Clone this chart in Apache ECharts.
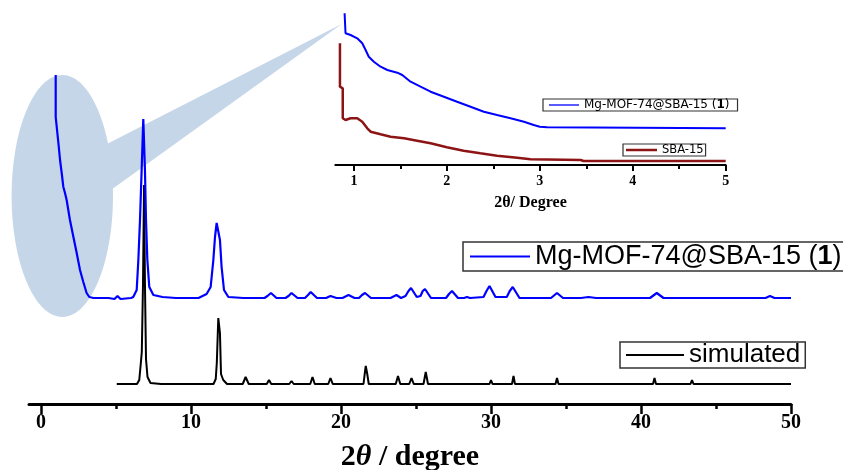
<!DOCTYPE html>
<html><head><meta charset="utf-8">
<script src="https://cdn.jsdelivr.net/npm/echarts@6/dist/echarts.min.js"></script>
<style>html,body{margin:0;padding:0;background:#fff}#c{width:843px;height:470px}</style>
</head><body><div id="c"></div>
<script>
// ---- tick values ----
const mainTicks = [0, 10, 20, 30, 40, 50];
const mainMinorTicks = [5, 15, 25, 35, 45];
const insetTicks = [1, 2, 3, 4, 5];
const insetMinorTicks = [1.5, 2.5, 3.5, 4.5];

// ---- series names ----
const nameComposite = 'Mg-MOF-74@SBA-15 (1)';
const nameSimulated = 'simulated';
const nameCompositeInset = 'Mg-MOF-74@SBA-15 (1) low-angle';
const nameSBA = 'SBA-15';

// ---- main pattern: Mg-MOF-74@SBA-15 (1), [2theta, intensity] ----
const blueMain = [
  [0.98,329],[0.98,287],[1.09,286],[1.16,261],[1.27,244],[1.38,231],[1.49,217],[1.6,211],[1.71,204],
  [1.82,194],[1.93,184],[2.16,167],[2.38,151],[2.6,134],[2.82,122],[3.04,111],[3.22,107],[3.5,106],
  [4.5,106],[4.9,105],[5.1,108],[5.3,105],[6.0,106],[6.15,107],[6.38,114],[6.49,144],[6.6,184],
  [6.71,234],[6.82,285],[6.93,234],[7.0,184],[7.09,144],[7.22,117],[7.49,109],[8.1,107],[9,106],
  [10.5,106],[11.04,110],[11.31,117],[11.49,144],[11.6,167],[11.71,181],[11.82,180],[11.93,164],
  [12.04,137],[12.2,114],[12.49,107],[13.5,106],[14.9,106],[15.1,108],[15.33,111],[15.7,106],[16.3,106],
  [16.5,108],[16.7,111],[17.1,106],[17.6,106],[17.8,109],[17.98,112],[18.4,106],[19.0,106],[19.3,108],
  [19.7,106],[20.1,106],[20.5,109],[20.9,106],[21.2,106],[21.4,109],[21.6,111],[22.0,106],[23.3,106],
  [23.7,109],[24.0,106],[24.3,108],[24.5,113],[24.67,116],[25.05,107],[25.3,108],[25.45,113],[25.6,115],
  [26.0,106],[27.0,106],[27.2,110],[27.4,113],[27.8,106],[28.2,106],[28.4,107],[28.6,106],[29.5,107],
  [29.7,113],[29.9,118],[30.3,107],[31.05,107],[31.25,113],[31.45,117],[31.9,106],[33.0,106],[34.0,106],
  [34.4,111],[34.8,106],[36.0,106],[36.5,107],[37,106],[40.6,106],[41.05,111],[41.5,106],[44,106],
  [48.3,106],[48.6,108],[48.9,106],[50,106]
];

// ---- main pattern: simulated ----
const simulated = [
  [5.05,20],[6.4,20],[6.55,24],[6.65,40],[6.72,52],[6.8,120],[6.87,219],[6.93,120],[7.0,45],[7.1,27],
  [7.3,21],[8,20],[11.5,20],[11.65,25],[11.72,41],[11.82,86],[11.93,71],[12.0,30],[12.15,24],[12.4,20],
  [13.45,20],[13.64,27],[13.85,20],[15.05,20],[15.2,24],[15.35,20],[16.55,20],[16.7,23],[16.85,20],
  [17.95,20],[18.1,27],[18.25,20],[19.15,20],[19.3,26],[19.45,20],[20.5,20],[20.6,22],[20.7,20],
  [21.5,20],[21.58,30],[21.65,38],[21.75,30],[21.85,20],[23.65,20],[23.8,28],[23.95,20],[24.55,20],
  [24.7,26],[24.85,20],[25.5,20],[25.65,32],[25.8,20],[27.4,20],[27.5,22],[27.6,20],[28.4,20],[28.5,22],
  [28.6,20],[29.9,20],[30.0,24],[30.1,20],[31.4,20],[31.5,28],[31.6,20],[33.6,20],[33.7,22],[33.8,20],
  [34.3,20],[34.4,26],[34.5,20],[35.4,20],[35.5,22],[35.6,20],[36.7,20],[36.8,22],[36.9,20],[38.4,20],
  [38.5,22],[38.6,20],[40.8,20],[40.9,26],[41.0,20],[41.6,20],[41.7,22],[41.8,20],[43.3,20],[43.4,24],
  [43.5,20],[44.4,20],[44.5,22],[44.6,20],[48.5,20],[48.6,22],[48.7,20],[50,20]
];

// ---- inset (low angle) ----
const blueInset = [
  [0.90,151.7],[0.91,131.7],[0.964,130],[1.036,126.7],[1.09,121.7],[1.126,115],[1.16,108.3],[1.215,103.3],
  [1.287,98.3],[1.36,95],[1.467,92.3],[1.52,90],[1.61,83.3],[1.717,78.3],[1.825,73.3],[1.968,68.3],
  [2.11,63.3],[2.255,58.3],[2.398,53.3],[2.54,50],[2.685,46.7],[2.83,43.3],[2.935,40],[3.0,38.3],
  [3.08,37.7],[5.0,36.7]
];
const redInset = [
  [0.85,121.7],[0.85,78.3],[0.88,76.7],[0.88,46.7],[0.91,45],[0.964,46.7],[1.036,46.7],[1.09,43.3],
  [1.144,36.7],[1.18,33.3],[1.287,30.7],[1.395,28.3],[1.54,26.7],[1.68,24.3],[1.825,21.7],[2.0,17.7],
  [2.18,14.3],[2.36,11.7],[2.54,9.3],[2.757,7.3],[2.9,5.7],[3.44,5],[3.47,4],[5.0,4]
];

const BLUE = '#0000ff', BLACK = '#000000', RED = '#8c1414', FILL = '#c6d6e9';
const SERIF = '"Liberation Serif","Times New Roman",serif';
const SANS = '"Liberation Sans",Arial,sans-serif';
const DJ = '"DejaVu Sans",sans-serif';

const chart = echarts.init(document.getElementById('c'), null, {renderer: 'canvas'});

const legendBase = {
  orient: 'horizontal', borderWidth: 1.5, borderColor: '#333', backgroundColor: '#fff',
  selectedMode: false, itemGap: 0, icon: 'rect'
};

chart.setOption({
  animation: false,
  backgroundColor: '#fff',
  grid: [
    {left: 29, right: 52, top: 4, bottom: 66, outerBoundsMode: 'none', containLabel: false},
    {left: 335.3, right: 117.3, top: 5, bottom: 305, outerBoundsMode: 'none', containLabel: false}
  ],
  xAxis: [
    {
      type: 'value', gridIndex: 0, position: 'bottom', min: -0.8, max: 50,
      axisLine: {onZero: false, lineStyle: {color: '#000', width: 3}},
      axisTick: {customValues: mainTicks, length: 10, lineStyle: {color: '#000', width: 2.5}},
      axisLabel: {customValues: mainTicks, margin: 9, color: '#000', fontFamily: SERIF, fontWeight: 'bold', fontSize: 20},
      splitLine: {show: false},
      name: '{n|2}{t|θ}{n| / degree}', nameLocation: 'middle', nameGap: 38,
      nameTextStyle: {rich: {
        n: {fontFamily: SERIF, fontWeight: 'bold', fontSize: 30, color: '#000'},
        t: {fontFamily: SERIF, fontWeight: 'bold', fontStyle: 'italic', fontSize: 30, color: '#000'}
      }}
    },
    {
      type: 'value', gridIndex: 0, position: 'bottom', min: -0.8, max: 50,
      axisLine: {show: false, onZero: false},
      axisTick: {customValues: mainMinorTicks, length: 5, lineStyle: {color: '#000', width: 2.5}},
      axisLabel: {show: false}, splitLine: {show: false}
    },
    {
      type: 'value', gridIndex: 1, position: 'bottom', min: 0.8, max: 5,
      axisLine: {onZero: false, lineStyle: {color: '#000', width: 2}},
      axisTick: {customValues: insetTicks, length: 6, lineStyle: {color: '#000', width: 2}},
      axisLabel: {customValues: insetTicks, margin: 9, color: '#000', fontFamily: SERIF, fontWeight: 'bold', fontSize: 14},
      splitLine: {show: false},
      name: '2θ/ Degree', nameLocation: 'middle', nameGap: 30,
      nameTextStyle: {fontFamily: SERIF, fontWeight: 'bold', fontSize: 16, color: '#000'}
    },
    {
      type: 'value', gridIndex: 1, position: 'bottom', min: 0.8, max: 5,
      axisLine: {show: false, onZero: false},
      axisTick: {customValues: insetMinorTicks, length: 4, lineStyle: {color: '#000', width: 2}},
      axisLabel: {show: false}, splitLine: {show: false}
    }
  ],
  yAxis: [
    {type: 'value', gridIndex: 0, min: 0, max: 400, show: false},
    {type: 'value', gridIndex: 1, min: 0, max: 160, show: false}
  ],
  legend: [
    Object.assign({}, legendBase, {
      data: [nameComposite], left: 463, top: 242, padding: [1, 3, 1, 7], itemWidth: 60, itemHeight: 2,
      formatter: () => 'Mg-MOF-74@SBA-15 ({b|1})',
      textStyle: {fontFamily: SANS, fontSize: 27, color: '#000', rich: {b: {fontFamily: SANS, fontSize: 27, fontWeight: 'bold', color: '#000'}}}
    }),
    Object.assign({}, legendBase, {
      data: [nameSimulated], left: 620, top: 342, padding: [0, 5, 0, 6], itemWidth: 58, itemHeight: 2,
      textStyle: {fontFamily: SANS, fontSize: 26, color: '#000'}
    }),
    Object.assign({}, legendBase, {
      data: [nameCompositeInset], left: 543, top: 99, padding: [0, 8, 0, 6], itemWidth: 30, itemHeight: 1.3,
      borderWidth: 1.2,
      formatter: () => 'Mg-MOF-74@SBA-15 ({b|1})',
      textStyle: {fontFamily: DJ, fontSize: 12, color: '#000', rich: {b: {fontFamily: DJ, fontSize: 12, fontWeight: 'bold', color: '#000'}}}
    }),
    Object.assign({}, legendBase, {
      data: [nameSBA], left: 623, top: 144, padding: [0, 2, 0, 3], itemWidth: 31, itemHeight: 2.5,
      borderWidth: 1.2,
      textStyle: {fontFamily: DJ, fontSize: 11.5, color: '#000'}
    })
  ],
  graphic: [
    {type: 'ellipse', z: 0, silent: true, shape: {cx: 62.3, cy: 196, rx: 50.7, ry: 121}, style: {fill: FILL}},
    {type: 'polygon', z: 0, silent: true, shape: {points: [[98, 146], [108.3, 143.3], [341.7, 24], [113.3, 188.3], [98, 190]]}, style: {fill: FILL}}
  ],
  series: [
    {name: nameSimulated, type: 'line', xAxisIndex: 0, yAxisIndex: 0, data: simulated, symbol: 'none', showSymbol: false,
      lineStyle: {color: BLACK, width: 2}, itemStyle: {color: BLACK}, z: 3},
    {name: nameComposite, type: 'line', xAxisIndex: 0, yAxisIndex: 0, data: blueMain, symbol: 'none', showSymbol: false,
      lineStyle: {color: BLUE, width: 2.2}, itemStyle: {color: BLUE}, z: 4},
    {name: nameCompositeInset, type: 'line', xAxisIndex: 2, yAxisIndex: 1, data: blueInset, symbol: 'none', showSymbol: false,
      lineStyle: {color: BLUE, width: 2}, itemStyle: {color: BLUE}, z: 4},
    {name: nameSBA, type: 'line', xAxisIndex: 2, yAxisIndex: 1, data: redInset, symbol: 'none', showSymbol: false,
      lineStyle: {color: RED, width: 2.5}, itemStyle: {color: RED}, z: 4}
  ]
});
</script>
</body></html>
